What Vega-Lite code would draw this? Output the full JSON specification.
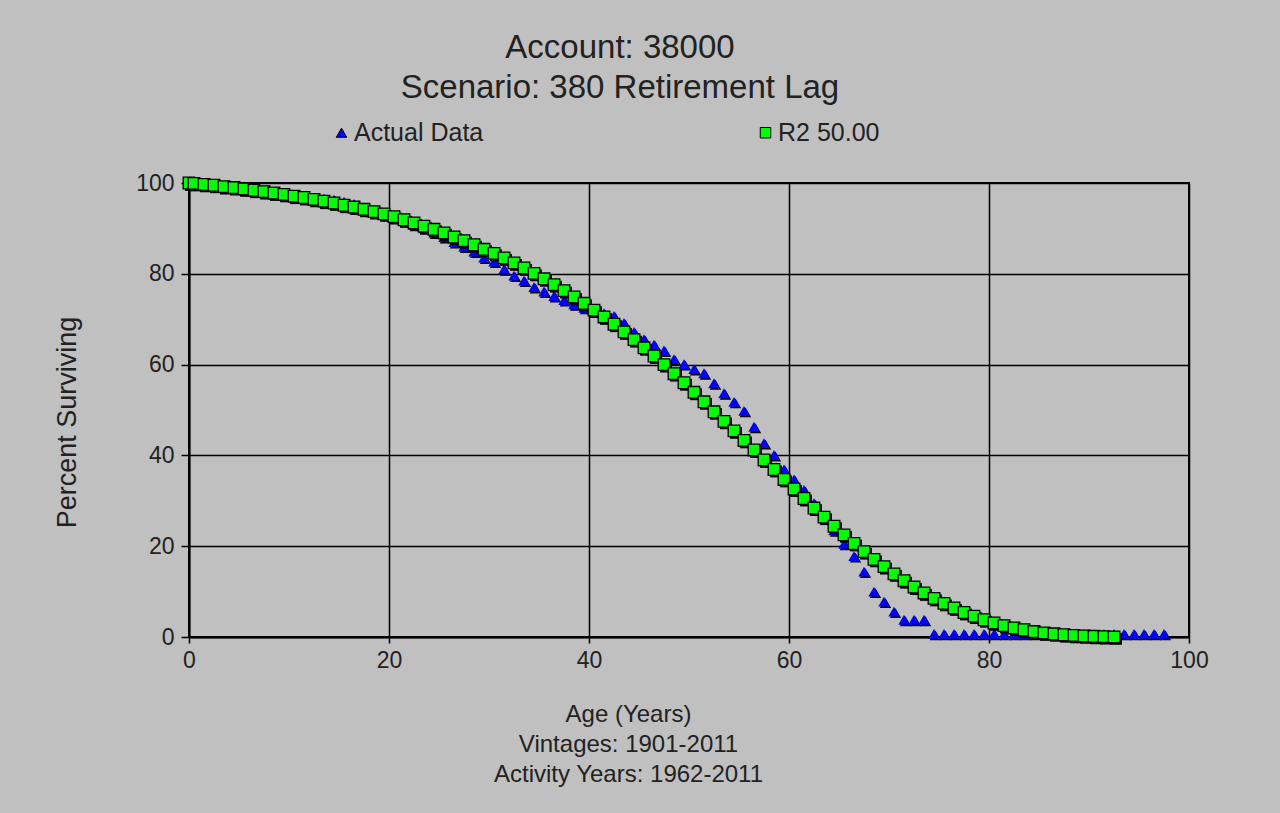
{
  "$schema": "https://vega.github.io/schema/vega-lite/v6.json",
  "width": 1000,
  "height": 454,
  "autosize": {"type": "none"},
  "padding": {"left": 189, "top": 183, "right": 91, "bottom": 176},
  "background": "#C0C0C0",
  "title": {
    "text": ["Account: 38000", "Scenario: 380 Retirement Lag"],
    "anchor": "middle",
    "dx": -69,
    "offset": 15,
    "font": "Liberation Sans",
    "fontSize": 33,
    "fontWeight": "normal",
    "lineHeight": 40,
    "color": "#222222"
  },
  "datasets": {
    "actual": [
      {"age": 0, "pct": 100}, {"age": 0.5, "pct": 99.9}, {"age": 1.5, "pct": 99.7}, {"age": 2.5, "pct": 99.5},
      {"age": 3.5, "pct": 99.3}, {"age": 4.5, "pct": 99.0}, {"age": 5.5, "pct": 98.8}, {"age": 6.5, "pct": 98.5},
      {"age": 7.5, "pct": 98.2}, {"age": 8.5, "pct": 97.9}, {"age": 9.5, "pct": 97.6}, {"age": 10.5, "pct": 97.3},
      {"age": 11.5, "pct": 97.0}, {"age": 12.5, "pct": 96.7}, {"age": 13.5, "pct": 96.6}, {"age": 14.5, "pct": 96.3},
      {"age": 15.5, "pct": 95.9}, {"age": 16.5, "pct": 95.4}, {"age": 17.5, "pct": 94.6}, {"age": 18.5, "pct": 93.8},
      {"age": 19.5, "pct": 93.1}, {"age": 20.5, "pct": 92.4}, {"age": 21.5, "pct": 91.6}, {"age": 22.5, "pct": 90.8},
      {"age": 23.5, "pct": 90.0}, {"age": 24.5, "pct": 89.1}, {"age": 25.5, "pct": 88.1}, {"age": 26.5, "pct": 87.0},
      {"age": 27.5, "pct": 86.0}, {"age": 28.5, "pct": 84.9}, {"age": 29.5, "pct": 83.6}, {"age": 30.5, "pct": 82.7},
      {"age": 31.5, "pct": 81.0}, {"age": 32.5, "pct": 79.6}, {"age": 33.5, "pct": 78.5}, {"age": 34.5, "pct": 77.1},
      {"age": 35.5, "pct": 76.1}, {"age": 36.5, "pct": 75.1}, {"age": 37.5, "pct": 74.2}, {"age": 38.5, "pct": 73.3},
      {"age": 39.5, "pct": 72.5}, {"age": 40.5, "pct": 71.8}, {"age": 41.5, "pct": 71.3}, {"age": 42.5, "pct": 70.7},
      {"age": 43.5, "pct": 69.2}, {"age": 44.5, "pct": 67.2}, {"age": 45.5, "pct": 65.6}, {"age": 46.5, "pct": 64.4},
      {"age": 47.5, "pct": 63.1}, {"age": 48.5, "pct": 61.2}, {"age": 49.5, "pct": 60.1}, {"age": 50.5, "pct": 59.0},
      {"age": 51.5, "pct": 58.1}, {"age": 52.5, "pct": 55.9}, {"age": 53.5, "pct": 53.7}, {"age": 54.5, "pct": 51.8},
      {"age": 55.5, "pct": 49.8}, {"age": 56.5, "pct": 46.3}, {"age": 57.5, "pct": 42.7}, {"age": 58.5, "pct": 40.1},
      {"age": 59.5, "pct": 36.9}, {"age": 60.5, "pct": 34.7}, {"age": 61.5, "pct": 32.4}, {"age": 62.5, "pct": 29.5},
      {"age": 63.5, "pct": 26.8}, {"age": 64.5, "pct": 23.5}, {"age": 65.5, "pct": 20.5}, {"age": 66.5, "pct": 17.8},
      {"age": 67.5, "pct": 14.4}, {"age": 68.5, "pct": 10.0}, {"age": 69.5, "pct": 7.8}, {"age": 70.5, "pct": 5.6},
      {"age": 71.5, "pct": 3.8}, {"age": 72.5, "pct": 3.8}, {"age": 73.5, "pct": 3.8}, {"age": 74.5, "pct": 0.7},
      {"age": 75.5, "pct": 0.7}, {"age": 76.5, "pct": 0.7}, {"age": 77.5, "pct": 0.7}, {"age": 78.5, "pct": 0.7},
      {"age": 79.5, "pct": 0.7}, {"age": 80.5, "pct": 0.7}, {"age": 81.5, "pct": 0.7}, {"age": 82.5, "pct": 0.7},
      {"age": 83.5, "pct": 0.7}, {"age": 84.5, "pct": 0.7}, {"age": 85.5, "pct": 0.7}, {"age": 86.5, "pct": 0.7},
      {"age": 87.5, "pct": 0.7}, {"age": 88.5, "pct": 0.7}, {"age": 89.5, "pct": 0.7}, {"age": 90.5, "pct": 0.7},
      {"age": 91.5, "pct": 0.7}, {"age": 92.5, "pct": 0.7}, {"age": 93.5, "pct": 0.7}, {"age": 94.5, "pct": 0.7},
      {"age": 95.5, "pct": 0.7}, {"age": 96.5, "pct": 0.7}, {"age": 97.5, "pct": 0.7}
    ],
    "fitted": [
      {"age": 0, "pct": 100}, {"age": 0.5, "pct": 99.9}, {"age": 1.5, "pct": 99.7}, {"age": 2.5, "pct": 99.5},
      {"age": 3.5, "pct": 99.2}, {"age": 4.5, "pct": 99.0}, {"age": 5.5, "pct": 98.7}, {"age": 6.5, "pct": 98.4},
      {"age": 7.5, "pct": 98.1}, {"age": 8.5, "pct": 97.8}, {"age": 9.5, "pct": 97.5}, {"age": 10.5, "pct": 97.1},
      {"age": 11.5, "pct": 96.8}, {"age": 12.5, "pct": 96.4}, {"age": 13.5, "pct": 96.0}, {"age": 14.5, "pct": 95.6},
      {"age": 15.5, "pct": 95.1}, {"age": 16.5, "pct": 94.7}, {"age": 17.5, "pct": 94.2}, {"age": 18.5, "pct": 93.7},
      {"age": 19.5, "pct": 93.2}, {"age": 20.5, "pct": 92.6}, {"age": 21.5, "pct": 91.9}, {"age": 22.5, "pct": 91.2},
      {"age": 23.5, "pct": 90.5}, {"age": 24.5, "pct": 89.8}, {"age": 25.5, "pct": 89.0}, {"age": 26.5, "pct": 88.1},
      {"age": 27.5, "pct": 87.3}, {"age": 28.5, "pct": 86.4}, {"age": 29.5, "pct": 85.4}, {"age": 30.5, "pct": 84.5},
      {"age": 31.5, "pct": 83.5}, {"age": 32.5, "pct": 82.4}, {"age": 33.5, "pct": 81.3}, {"age": 34.5, "pct": 80.1},
      {"age": 35.5, "pct": 78.9}, {"age": 36.5, "pct": 77.6}, {"age": 37.5, "pct": 76.3}, {"age": 38.5, "pct": 74.9},
      {"age": 39.5, "pct": 73.5}, {"age": 40.5, "pct": 72.0}, {"age": 41.5, "pct": 70.5}, {"age": 42.5, "pct": 68.9},
      {"age": 43.5, "pct": 67.2}, {"age": 44.5, "pct": 65.5}, {"age": 45.5, "pct": 63.7}, {"age": 46.5, "pct": 61.9},
      {"age": 47.5, "pct": 60.0}, {"age": 48.5, "pct": 58.0}, {"age": 49.5, "pct": 56.0}, {"age": 50.5, "pct": 53.9},
      {"age": 51.5, "pct": 51.8}, {"age": 52.5, "pct": 49.6}, {"age": 53.5, "pct": 47.5}, {"age": 54.5, "pct": 45.4},
      {"age": 55.5, "pct": 43.3}, {"age": 56.5, "pct": 41.2}, {"age": 57.5, "pct": 39.0}, {"age": 58.5, "pct": 36.9},
      {"age": 59.5, "pct": 34.7}, {"age": 60.5, "pct": 32.6}, {"age": 61.5, "pct": 30.5}, {"age": 62.5, "pct": 28.4},
      {"age": 63.5, "pct": 26.4}, {"age": 64.5, "pct": 24.4}, {"age": 65.5, "pct": 22.5}, {"age": 66.5, "pct": 20.6},
      {"age": 67.5, "pct": 18.8}, {"age": 68.5, "pct": 17.1}, {"age": 69.5, "pct": 15.5}, {"age": 70.5, "pct": 13.9},
      {"age": 71.5, "pct": 12.4}, {"age": 72.5, "pct": 11.0}, {"age": 73.5, "pct": 9.7}, {"age": 74.5, "pct": 8.5},
      {"age": 75.5, "pct": 7.4}, {"age": 76.5, "pct": 6.4}, {"age": 77.5, "pct": 5.4}, {"age": 78.5, "pct": 4.6},
      {"age": 79.5, "pct": 3.8}, {"age": 80.5, "pct": 3.1}, {"age": 81.5, "pct": 2.5}, {"age": 82.5, "pct": 2.0},
      {"age": 83.5, "pct": 1.6}, {"age": 84.5, "pct": 1.2}, {"age": 85.5, "pct": 0.9}, {"age": 86.5, "pct": 0.7},
      {"age": 87.5, "pct": 0.5}, {"age": 88.5, "pct": 0.35}, {"age": 89.5, "pct": 0.25}, {"age": 90.5, "pct": 0.15},
      {"age": 91.5, "pct": 0.08}, {"age": 92.5, "pct": 0.03}
    ]
  },
  "encoding": {
    "x": {
      "field": "age", "type": "quantitative",
      "scale": {"domain": [0, 100], "nice": false, "zero": false},
      "axis": {
        "values": [0, 20, 40, 60, 80, 100],
        "title": ["Age (Years)", "Vintages: 1901-2011", "Activity Years: 1962-2011"],
        "titleLineHeight": 30,
        "titlePadding": 30,
        "titleFontSize": 24,
        "titleX": 439,
        "labelPadding": 6,
        "labelFlush": false,
        "tickSize": 6
      }
    },
    "y": {
      "field": "pct", "type": "quantitative",
      "scale": {"domain": [0, 100], "nice": false},
      "axis": {
        "values": [0, 20, 40, 60, 80, 100],
        "title": "Percent Surviving",
        "titleFontSize": 27,
        "titlePadding": 54,
        "titleY": 239,
        "labelPadding": 7,
        "labelFlush": false,
        "tickSize": 8
      }
    }
  },
  "layer": [
    {
      "data": {"name": "actual"},
      "mark": {"type": "point", "shape": "triangle-up", "filled": true, "color": "#000000", "opacity": 1, "size": 130, "xOffset": 1.5, "yOffset": 1.5}
    },
    {
      "data": {"name": "actual"},
      "transform": [{"calculate": "'Actual Data'", "as": "series"}],
      "mark": {"type": "point", "filled": true, "opacity": 1, "size": 130},
      "encoding": {
        "color": {"field": "series", "type": "nominal", "scale": {"domain": ["Actual Data", "R2 50.00"], "range": ["#0000FF", "#00FF00"]}, "legend": {"title": null}},
        "shape": {"field": "series", "type": "nominal", "scale": {"domain": ["Actual Data", "R2 50.00"], "range": ["triangle-up", "square"]}, "legend": {"title": null}}
      }
    },
    {
      "data": {"name": "fitted"},
      "mark": {"type": "point", "shape": "square", "filled": true, "color": "#000000", "opacity": 1, "size": 140, "xOffset": 2, "yOffset": 2}
    },
    {
      "data": {"name": "fitted"},
      "transform": [{"calculate": "'R2 50.00'", "as": "series"}],
      "mark": {"type": "point", "filled": true, "opacity": 1, "size": 135, "stroke": "#000000", "strokeWidth": 1.3},
      "encoding": {
        "color": {"field": "series", "type": "nominal", "scale": {"domain": ["Actual Data", "R2 50.00"], "range": ["#0000FF", "#00FF00"]}, "legend": {"title": null}},
        "shape": {"field": "series", "type": "nominal", "scale": {"domain": ["Actual Data", "R2 50.00"], "range": ["triangle-up", "square"]}, "legend": {"title": null}}
      }
    }
  ],
  "config": {
    "font": "Liberation Sans",
    "view": {"stroke": "#000000", "strokeWidth": 2},
    "axis": {
      "grid": true,
      "gridColor": "#000000",
      "gridWidth": 1.5,
      "gridOpacity": 1,
      "domainColor": "#000000",
      "domainWidth": 2,
      "tickColor": "#000000",
      "tickWidth": 1.5,
      "labelFontSize": 23,
      "labelColor": "#222222",
      "labelFont": "Liberation Sans",
      "titleFont": "Liberation Sans",
      "titleFontWeight": "normal",
      "titleColor": "#222222"
    },
    "legend": {
      "orient": "none",
      "legendX": 140,
      "legendY": -63,
      "direction": "horizontal",
      "columns": 2,
      "columnPadding": 269,
      "labelFontSize": 25,
      "labelColor": "#222222",
      "labelFont": "Liberation Sans",
      "symbolSize": 110,
      "symbolStrokeColor": "#000000",
      "symbolStrokeWidth": 1,
      "labelOffset": 0
    }
  }
}
